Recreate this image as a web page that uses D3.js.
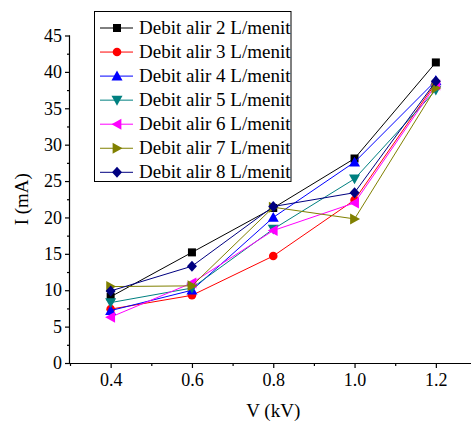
<!DOCTYPE html>
<meta charset="utf-8">
<style>
  body { margin: 0; background: #fff; }
  text { font-family: "Liberation Serif", "Times New Roman", serif; fill: #000; }
  .axis-label { font-size: 19px; }
  .legend-label { font-size: 19px; }
</style>
<script src="https://d3js.org/d3.v7.min.js"></script>
<div id="chart"></div>
<script>
  // data
  const voltage = [0.4, 0.6, 0.8, 1.0, 1.2]
  const seriesNames = ["Debit alir 2 L/menit", "Debit alir 3 L/menit", "Debit alir 4 L/menit",
                       "Debit alir 5 L/menit", "Debit alir 6 L/menit", "Debit alir 7 L/menit",
                       "Debit alir 8 L/menit"]
  const debit2 = [9.1, 15.2, 21.3, 28.1, 41.3]
  const debit3 = [7.4, 9.3, 14.7, 22.4, 38.5]
  const debit4 = [7.2, 10.0, 20.0, 27.6, 38.8]
  const debit5 = [8.3, 10.3, 18.4, 25.3, 37.5]
  const debit6 = [6.3, 11.0, 18.2, 22.0, 38.2]
  const debit7 = [10.5, 10.6, 21.4, 19.8, 37.8]
  const debit8 = [9.9, 13.3, 21.5, 23.4, 38.7]
  const xTicks = [0.4, 0.6, 0.8, 1.0, 1.2]
  const yTicks = [0, 5, 10, 15, 20, 25, 30, 35, 40, 45]

  const allSeries = [debit2, debit3, debit4, debit5, debit6, debit7, debit8]
  const colors = ["#000000", "#ff0000", "#0000ff", "#008080", "#ff00ff", "#808000", "#000080"]
  const symbols = ["square", "circle", "up", "down", "left", "right", "diamond"]

  const W = 471, H = 424
  const svg = d3.select("#chart").append("svg")
    .attr("width", W).attr("height", H)

  const x = d3.scaleLinear().domain([0.3, 1.3]).range([70, 476.5])
  const y = d3.scaleLinear().domain([0, 45]).range([363, 35.5])

  // minor ticks
  svg.append("g")
    .attr("transform", `translate(0,${y(0)})`)
    .call(d3.axisBottom(x).tickValues([0.3, 0.5, 0.7, 0.9, 1.1]).tickSize(3).tickFormat(""))
    .call(g => g.select(".domain").remove())
  svg.append("g")
    .attr("transform", `translate(${x(0.3)},0)`)
    .call(d3.axisLeft(y).tickValues(d3.range(2.5, 45, 5)).tickSize(3).tickFormat(""))
    .call(g => g.select(".domain").remove())

  // major axes
  svg.append("g")
    .attr("transform", `translate(0,${y(0)})`)
    .call(d3.axisBottom(x).tickValues(xTicks).tickSize(5).tickPadding(5).tickFormat(d3.format(".1f")))
    .call(g => g.select(".domain").attr("d", `M${x(0.3)},0.5H${W}`))
  svg.append("g")
    .attr("transform", `translate(${x(0.3)},0)`)
    .call(d3.axisLeft(y).tickValues(yTicks).tickSize(5).tickPadding(3))
    .call(g => g.select(".domain").attr("d", `M-0.5,${y(45)}V${y(0)}`))

  svg.selectAll("g").attr("font-family", null).attr("font-size", null)
  svg.selectAll(".tick text")
    .style("font-family", "'Liberation Serif', 'Times New Roman', serif")
    .style("font-size", "18px")
  svg.selectAll(".domain, .tick line").attr("stroke", "#000").attr("stroke-width", 1.2)

  svg.append("text").attr("class", "axis-label")
    .attr("text-anchor", "middle")
    .attr("x", x(0.8)).attr("y", 417)
    .text("V (kV)")
  svg.append("text").attr("class", "axis-label")
    .attr("text-anchor", "middle")
    .attr("transform", `translate(28,${y(22.5)}) rotate(-90)`)
    .text("I (mA)")

  function marker(g, sym, color) {
    if (sym === "square") {
      g.append("rect").attr("x", -4).attr("y", -4).attr("width", 8).attr("height", 8).attr("fill", color)
    } else if (sym === "circle") {
      g.append("circle").attr("r", 4.3).attr("fill", color)
    } else if (sym === "diamond") {
      g.append("path").attr("d", "M0,-5.5L5,0L0,5.5L-5,0Z").attr("fill", color)
    } else {
      const s = 5.5
      const pts = {
        up: `M0,${-s}L${s},${s * 0.8}L${-s},${s * 0.8}Z`,
        down: `M0,${s}L${s},${-s * 0.8}L${-s},${-s * 0.8}Z`,
        left: `M${-s},0L${s * 0.8},${-s}L${s * 0.8},${s}Z`,
        right: `M${s},0L${-s * 0.8},${-s}L${-s * 0.8},${s}Z`
      }
      g.append("path").attr("d", pts[sym]).attr("fill", color)
    }
  }

  const line = d3.line().x((d, i) => x(voltage[i])).y(d => y(d))

  allSeries.forEach(function(vals, k) {
    const g = svg.append("g")
    g.append("path").datum(vals)
      .attr("d", line)
      .attr("fill", "none")
      .attr("stroke", colors[k])
      .attr("stroke-width", 1)
    vals.forEach(function(v, i) {
      const m = g.append("g").attr("transform", `translate(${x(voltage[i])},${y(v)})`)
      marker(m, symbols[k], colors[k])
    })
  })

  // legend
  const legend = svg.append("g")
  legend.append("rect")
    .attr("x", 94.5).attr("y", 11.5).attr("width", 196.5).attr("height", 170)
    .attr("fill", "#fff").attr("stroke", "#000").attr("stroke-width", 1)
  seriesNames.forEach(function(name, k) {
    const cy = 28 + k * 24.05
    legend.append("line")
      .attr("x1", 100).attr("x2", 133).attr("y1", cy).attr("y2", cy)
      .attr("stroke", colors[k]).attr("stroke-width", 1)
    const m = legend.append("g").attr("transform", `translate(117,${cy})`)
    marker(m, symbols[k], colors[k])
    legend.append("text").attr("class", "legend-label")
      .attr("x", 139).attr("y", cy + 6)
      .text(name)
  })
</script>
